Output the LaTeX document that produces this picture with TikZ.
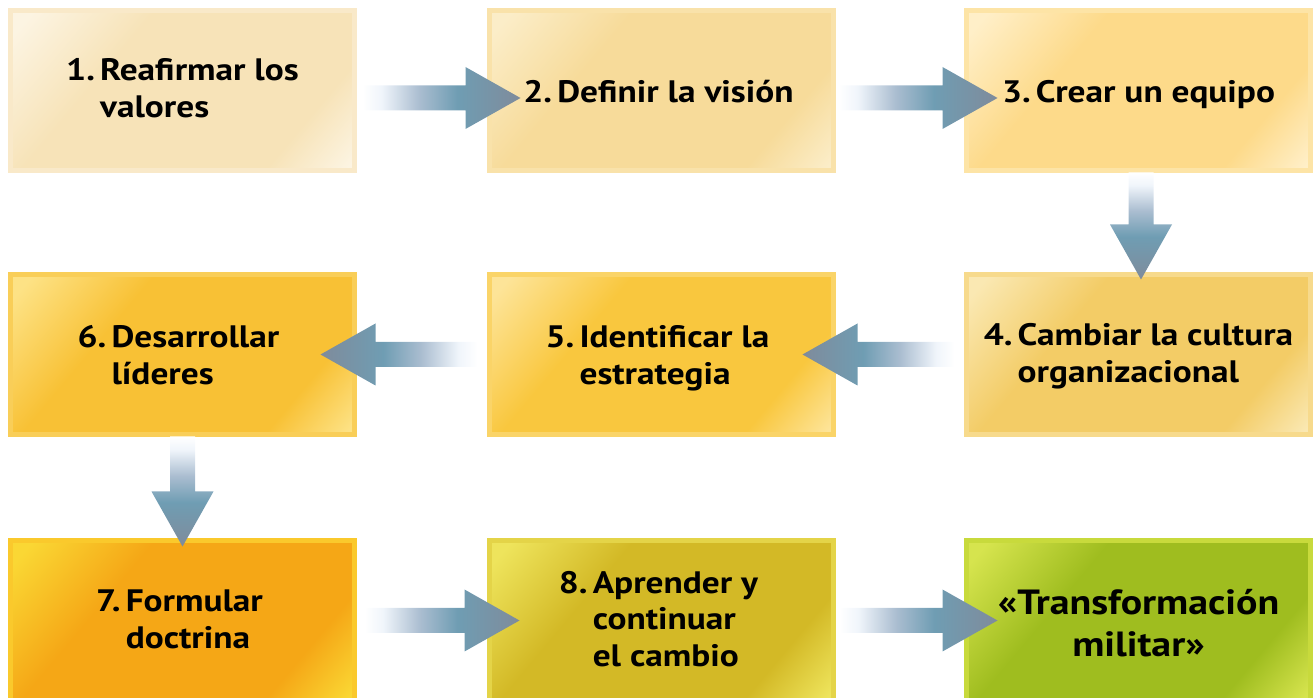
\documentclass[tikz,border=0pt]{standalone}
\usepackage{fontspec}
\setmainfont{PT Sans}[FakeStretch=1.14]
\usetikzlibrary{calc}
\definecolor{arwA}{HTML}{F0F5FB}
\definecolor{arwB}{HTML}{AABDD0}
\definecolor{arwC}{HTML}{6F9DB3}
\definecolor{arwD}{HTML}{7F8B9B}
\colorlet{bxlight}{white}
\colorlet{bxmain}{white}
\colorlet{bxframe}{white}
\pgfdeclarehorizontalshading[bxlight,bxmain]{boxshade}{100bp}{color(0bp)=(bxlight); color(18bp)=(bxlight); color(36bp)=(bxmain); color(72bp)=(bxmain); color(84bp)=(bxlight); color(100bp)=(bxlight)}
\pgfdeclarehorizontalshading{arrowshade}{100bp}{color(0bp)=(white); color(25bp)=(white); color(31bp)=(arwA); color(43bp)=(arwB); color(55bp)=(arwC); color(75bp)=(arwD); color(100bp)=(arwD)}
\newcommand{\fatarrow}[3]{%
  \path ($(#2)!55pt!(#1)$) coordinate (hb);
  \shade[shading=arrowshade, shading angle=#3]
    ($(#1)!12.5pt!90:(#2)$) -- ($(hb)!12.5pt!90:(#2)$) -- ($(hb)!31pt!90:(#2)$) -- (#2)
    -- ($(hb)!31pt!-90:(#2)$) -- ($(hb)!12.5pt!-90:(#2)$) -- ($(#1)!12.5pt!-90:(#2)$) -- cycle;
}
\tikzset{
  stepbox/.style n args={3}{
    /utils/exec={\definecolor{bxframe}{HTML}{#1}\definecolor{bxlight}{HTML}{#2}\definecolor{bxmain}{HTML}{#3}},
    minimum width=344pt, minimum height=160pt, outer sep=0pt,
    inner sep=0pt, line width=5pt, draw=bxframe, shading=boxshade, shading angle=-40},
  steptext/.style={font=\bfseries\fontsize{31}{36.5}\selectfont, inner sep=0pt},
}
\begin{document}
\begin{tikzpicture}[x=1pt,y=1pt]
\useasboundingbox (0,0) rectangle (1315,698);
\clip (0,0) rectangle (1315,698);
% boxes
\node[stepbox={F9E9C9}{FCF4E2}{F7E3B8}] (b1) at (182.5,607.5) {};
\node[stepbox={F9E2AA}{FBEDC8}{F7DB9A}] (b2) at (661.5,607.5) {};
\node[stepbox={FDE4A6}{FFEFC8}{FDDA8A}] (b3) at (1138.5,607.5) {};
\node[stepbox={F7DA8C}{FAE8B2}{F3CC66}] (b4) at (1138.5,343.5) {};
\node[stepbox={FAD468}{FDE498}{F9C73E}] (b5) at (661.5,343.5) {};
\node[stepbox={F9CE58}{FDE285}{F8C135}] (b6) at (182.5,343.5) {};
\node[stepbox={FAC92C}{FAD734}{F5A716}] (b7) at (182.5,77.5) {};
\node[stepbox={E4D448}{EEE45C}{D3B926}] (b8) at (661.5,77.5) {};
\node[stepbox={C8DA3C}{D6E44E}{9FBD1F}] (bT) at (1138.5,77.5) {};
% texts
\node[steptext] (t1) at ($(b1.center)+(0,-1)$) {\begin{tabular}{@{}l@{\,}l@{}}1.&Reafirmar los\\&valores\end{tabular}};
\node[steptext] (t2) at ($(b2.center)+(-3,-1)$) {2.\,Definir la visión};
\node[steptext] (t3) at ($(b3.center)+(0,-4)$) {3.\,Crear un equipo};
\node[steptext] (t4) at ($(b4.center)+(0,-2)$) {\begin{tabular}{@{}l@{\,}l@{}}4.&Cambiar la cultura\\&organizacional\end{tabular}};
\node[steptext] (t5) at ($(b5.center)+(-4,-4)$) {\begin{tabular}{@{}l@{\,}l@{}}5.&Identificar la\\&estrategia\end{tabular}};
\node[steptext] (t6) at ($(b6.center)+(-4,-4)$) {\begin{tabular}{@{}l@{\,}l@{}}6.&Desarrollar\\&líderes\end{tabular}};
\node[steptext] (t7) at ($(b7.center)+(-3,-2)$) {\begin{tabular}{@{}l@{\,}l@{}}7.&Formular\\&doctrina\end{tabular}};
\node[steptext] (t8) at ($(b8.center)+(-3,-2)$) {\begin{tabular}{@{}l@{\,}l@{}}8.&Aprender y\\&continuar\\&el cambio\end{tabular}};
\node[font=\bfseries\fontsize{35}{42}\selectfont, align=center, inner sep=0pt] (tT) at ($(bT.center)+(0,-3)$) {«Transformación\\militar»};
% arrow endpoints
\coordinate (a12s) at ($(b1.east)+(8,-7.5)$);   \coordinate (a12e) at ($(b2.west)+(31,-7.5)$);
\coordinate (a23s) at ($(b2.east)+(5,-7.5)$);   \coordinate (a23e) at ($(b3.west)+(31,-7.5)$);
\coordinate (a34s) at ($(b3.south)+(2.5,-2)$);  \coordinate (a34e) at ($(b4.north)+(2.5,-5)$);
\coordinate (a45s) at ($(b4.west)+(-12,0)$);    \coordinate (a45e) at ($(b5.east)+(-31,0)$);
\coordinate (a56s) at ($(b5.west)+(-12,0)$);    \coordinate (a56e) at ($(b6.east)+(-34,0)$);
\coordinate (a67s) at ($(b6.south)+(0,-2)$);    \coordinate (a67e) at ($(b7.north)+(0,-6)$);
\coordinate (a78s) at ($(b7.east)+(10,0)$);     \coordinate (a78e) at ($(b8.west)+(30,0)$);
\coordinate (a8Ts) at ($(b8.east)+(6,0)$);      \coordinate (a8Te) at ($(bT.west)+(31,0)$);
\fatarrow{a12s}{a12e}{0}
\fatarrow{a23s}{a23e}{0}
\fatarrow{a34s}{a34e}{-90}
\fatarrow{a45s}{a45e}{180}
\fatarrow{a56s}{a56e}{180}
\fatarrow{a67s}{a67e}{-90}
\fatarrow{a78s}{a78e}{0}
\fatarrow{a8Ts}{a8Te}{0}
\end{tikzpicture}
\end{document}
